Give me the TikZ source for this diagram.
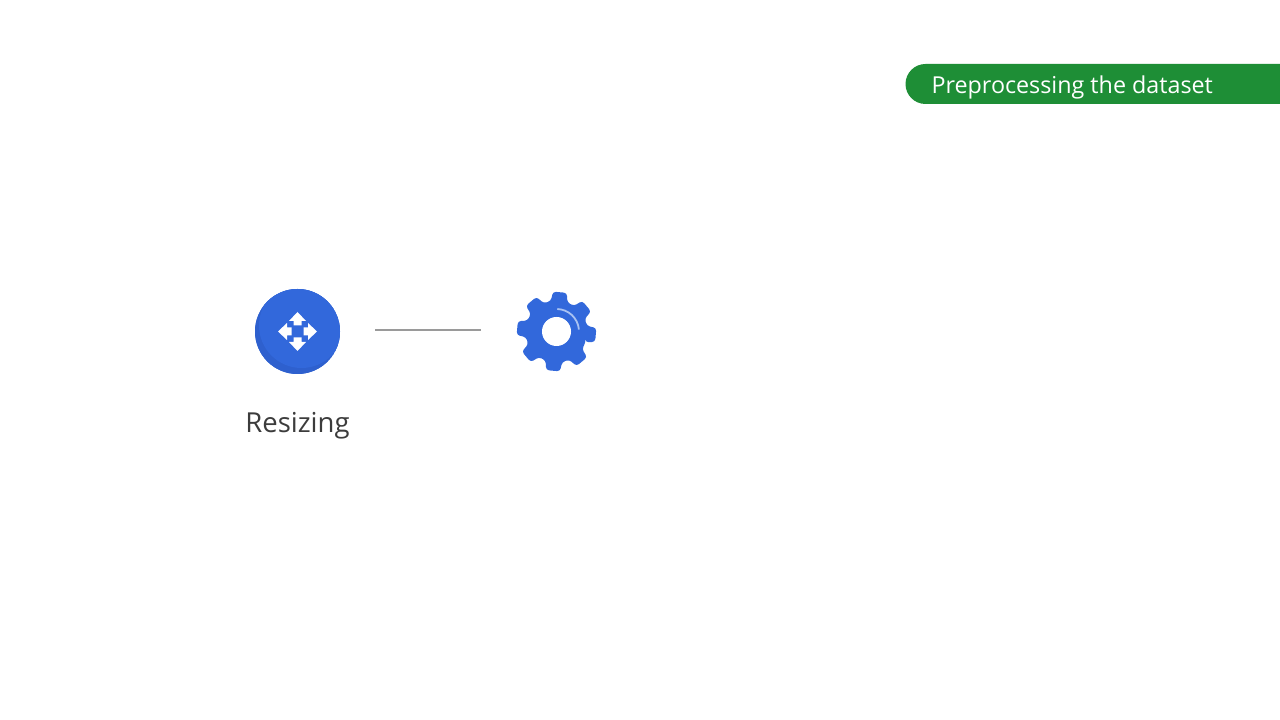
\documentclass[tikz,border=0pt]{standalone}
\usepackage{fontspec}
\usetikzlibrary{positioning}
\setmainfont{Open Sans}
\definecolor{iconblue}{HTML}{3268DB}
\definecolor{icondark}{HTML}{2E60CE}
\definecolor{gearline}{HTML}{A9C2F2}
\definecolor{bannergreen}{HTML}{1E8E36}
\definecolor{labelgray}{HTML}{3C3C3C}
\definecolor{linegray}{HTML}{9A9A9A}
\tikzstyle{icon}=[circle,
                        inner sep=0pt,
                        fill=iconblue]
\tikzstyle{gearhub}=[circle,
                        inner sep=0pt,
                        minimum size=80pt]
\tikzstyle{banner}=[text=white,
                        anchor=west,
                        font=\fontsize{23.3}{23.3}\selectfont]

\begin{document}
\begin{tikzpicture}[x=1pt,y=1pt]
  \useasboundingbox (0,0) rectangle (1280,720);
  \fill[white] (0,0) rectangle (1280,720);

  % The banner runs off the right edge:
  \fill[bannergreen] (1280,656) -- (925.5,656) arc (90:270:20) -- (1280,616) -- cycle;
  \node (title) [banner] at (928,632.5) {Preprocessing the dataset};

  % The icons and their label:
  \node (resize) [icon,minimum size=85pt] at (297.5,388.5) {};
  \node (gear) [gearhub] at (556.5,388.5) {};
  \node (resizelabel) [below=34.5pt of resize,text=labelgray,font=\fontsize{27.5}{27.5}\selectfont] {Resizing};

  % Darker crescent on the round icon:
  \begin{scope}
    \clip (resize.center) circle (42.5);
    \fill[icondark] (resize.center) circle (42.5);
    \fill[iconblue] ([shift={(4,6)}]resize.center) circle (42.5);
  \end{scope}

  % Four white arrows:
  \foreach \a in {0,90,180,270} {
    \fill[white,shift={(resize.center)},rotate=\a]
      (19.5,0) -- (10.5,-8.5) -- (10.5,-4) -- (6,-4) -- (6,4) -- (10.5,4) -- (10.5,8.5) -- cycle;
  }

  % The gear wheel, tooth by tooth:
  \fill[iconblue,rounded corners=3pt,shift={(gear.center)}]
    (-20.5:31)
    \foreach \a in {-5,40,85,130,175,220,265,310} {
      -- (\a-15.5:31) -- (\a-10:40) -- (\a+10:40) -- (\a+15.5:31)
    } -- cycle;
  \fill[white] (gear.center) circle (14.5);
  \draw[gearline,line width=1.8pt] ([shift={(88:22.5)}]gear.center) arc (88:5:22.5);

  % The connector:
  \draw[linegray,line width=2pt,shorten <=35pt,shorten >=35pt]
    ([yshift=1pt]resize.east) -- ([yshift=1pt]gear.west);
\end{tikzpicture}
\end{document}
